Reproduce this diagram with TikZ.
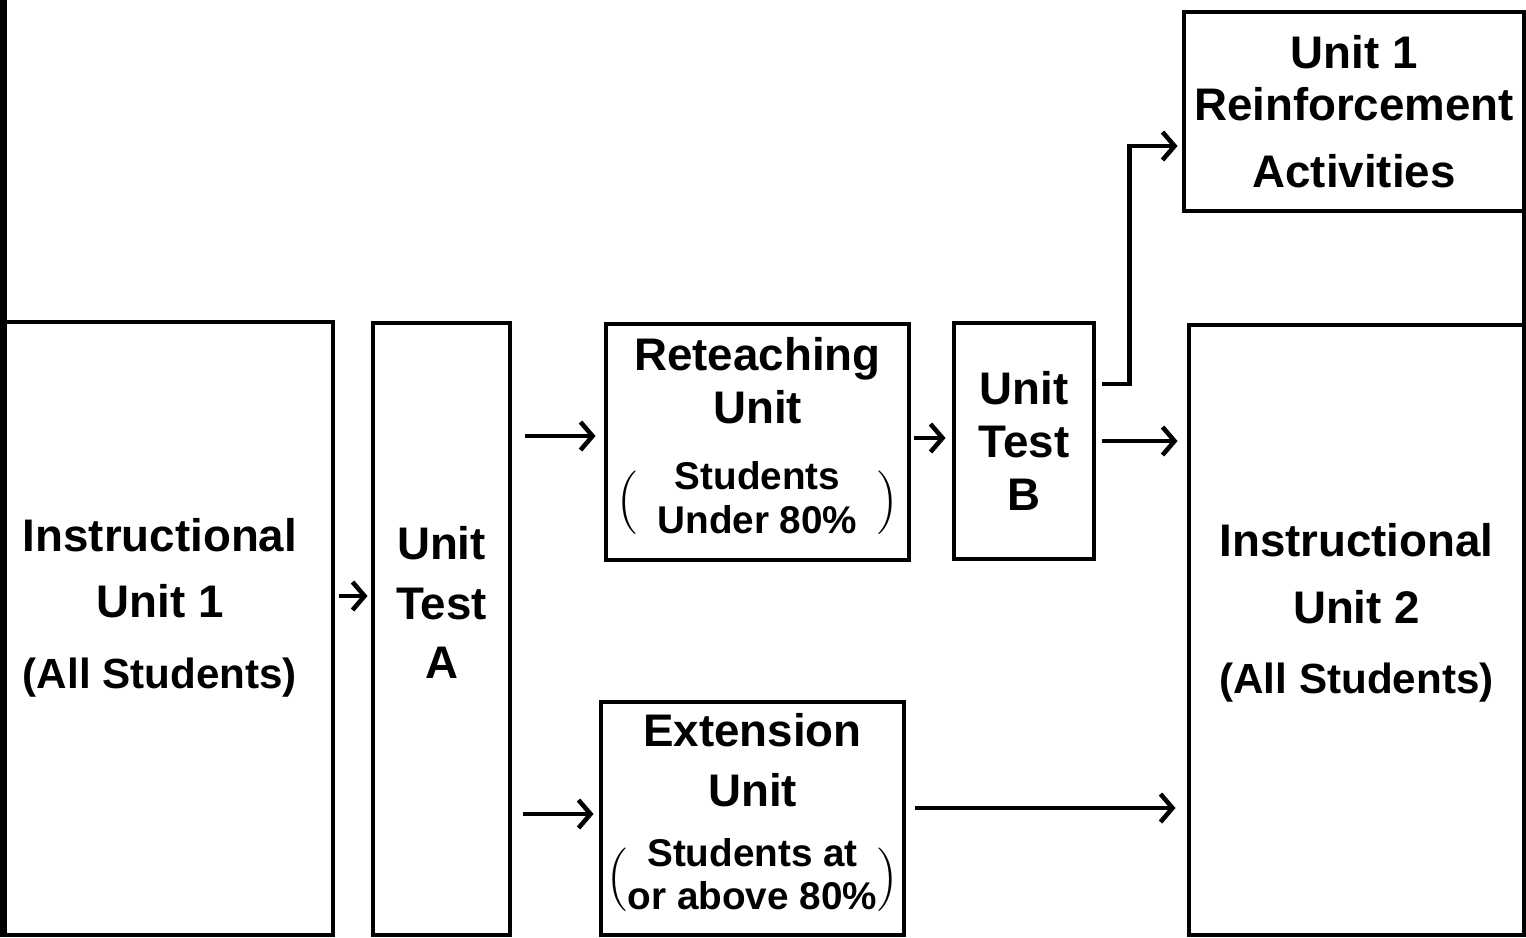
\documentclass[tikz,border=0pt]{standalone}
\usepackage{fontspec}
\setmainfont{Liberation Sans}
\usetikzlibrary{positioning, arrows.meta, calc}

\begin{document}
\begin{tikzpicture}[
   every node/.style   = {font=\bfseries\fontsize{13}{15}\selectfont},
        unitBox/.style = {rectangle, draw, line width=1.4pt, align=center, inner sep=0pt},
        textNode/.style = {align=center, inner sep=0pt},
        myarrow/.style = {-{Straight Barb[length=1.2mm, width=2.8mm, line width=1.3pt]}, line width=1.4pt}
]
\useasboundingbox (0,0) rectangle (15.26,-9.37);

% page edges
\draw[line width=2pt] (0.035,0) -- (0.035,-9.37);
\draw[line width=1.4pt] (15.24,-0.12) -- (15.24,-9.37);

\node[unitBox, minimum width=3.28cm, minimum height=6.13cm] (iu1) at (1.69,-6.285) {};
\node[textNode, xshift=-0.09cm, yshift=0.21cm] (iu1txt) at (iu1.center)
    {Instructional\\[4pt] Unit 1\\[5pt] {\fontsize{12}{15}\selectfont (All Students)}};

\node[unitBox, minimum width=1.37cm, minimum height=6.12cm] (uta) at (4.415,-6.29) {};
\node[textNode, yshift=0.265cm] (utatxt) at (uta.center) {Unit\\[2pt] Test\\[2pt] A};

\node[unitBox, minimum width=3.03cm, minimum height=2.36cm] (ret) at (7.575,-4.42)
    {Reteaching\\ Unit\\[9pt]
     {\fontsize{11}{12.5}\selectfont$\Big(\hspace{0.2cm}\begin{tabular}{@{}c@{}}Students\\ Under 80\%\end{tabular}\hspace{0.2cm}\Big)$}};

\node[unitBox, minimum width=3.03cm, minimum height=2.33cm] (ext) at (7.525,-8.185)
    {Extension\\[2pt] Unit\\[7pt]
     {\fontsize{11}{12.5}\selectfont$\Big(\begin{tabular}{@{}c@{}}Students at\\ or above 80\%\end{tabular}\Big)$}};

\node[unitBox, minimum width=1.40cm, minimum height=2.36cm] (utb) at (10.24,-4.41) {Unit\\ Test\\ B};

\node[unitBox, minimum width=3.40cm, minimum height=1.99cm] (reinf) at (13.54,-1.115)
    {Unit 1\\ Reinforcement\\[4pt] Activities};

\node[unitBox, minimum width=3.35cm, minimum height=6.10cm] (iu2) at (13.565,-6.30) {};
\node[textNode, yshift=0.17cm] (iu2txt) at (iu2.center)
    {Instructional\\[4pt] Unit 2\\[5pt] {\fontsize{12}{15}\selectfont (All Students)}};

% connectors
\coordinate (iu1Out) at ([yshift=3.25mm]iu1.east);
\coordinate (retIn) at ([yshift=0.6mm]ret.west);
\coordinate (extIn) at ([yshift=0.45mm]ext.west);
\coordinate (retOut) at ([yshift=0.4mm]ret.east);
\coordinate (extOut) at ([yshift=1.05mm]ext.east);
\coordinate (utbUp) at ([yshift=5.7mm]utb.east);
\coordinate (reinfIn) at ([yshift=-3.45mm]reinf.west);

\draw[myarrow, shorten <=0.4mm, shorten >=0.3mm] (iu1Out) -- (iu1Out -| uta.west);
\draw[myarrow, shorten <=1.3mm, shorten >=0.8mm] (uta.east |- retIn) -- (retIn);
\draw[myarrow, shorten <=1.1mm, shorten >=0.5mm] (uta.east |- extIn) -- (extIn);
\draw[myarrow, shorten <=0.3mm, shorten >=0.6mm] (retOut) -- (retOut -| utb.west);
\draw[myarrow, shorten <=0.6mm, shorten >=0.9mm] (utb.east) -- (utb.east -| iu2.west);
\draw[myarrow, shorten <=0.6mm, shorten >=0.4mm] (utbUp) -- ++(0.33,0) |- (reinfIn);
\draw[myarrow, shorten <=0.9mm, shorten >=1.1mm] (extOut) -- (extOut -| iu2.west);

\end{tikzpicture}
\end{document}
